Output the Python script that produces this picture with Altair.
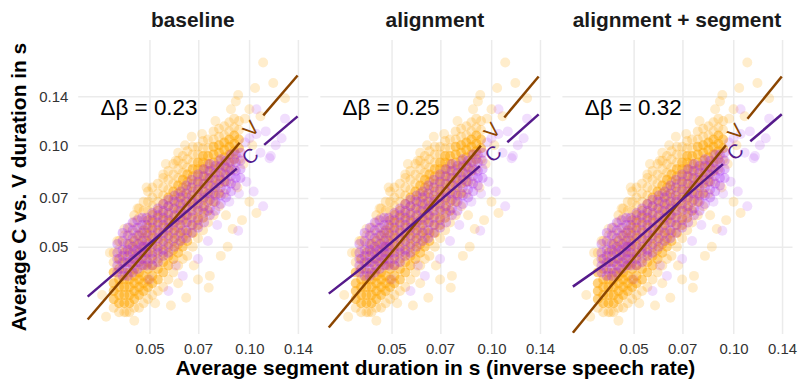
import altair as alt
import pandas as pd

panels = ["baseline", "alignment", "alignment + segment"]
delta_beta = ["Δβ = 0.23", "Δβ = 0.25", "Δβ = 0.32"]
tick_values = [0.05, 0.07, 0.10, 0.14]

# Vowel (V) points: x (thousandths of s) -> y values (thousandths of s)
# dense core of the cloud
v_core_cols = [
    (39.0, [35, 37, 39, 42]),
    (40.5, [34, 36, 38, 40, 43, 46]),
    (42.0, [34, 36, 38, 40, 42, 45, 48]),
    (43.5, [34, 36, 38, 40, 42, 45, 48, 51]),
    (45.0, [35, 37, 39, 41, 43, 46, 49, 52]),
    (46.5, [36, 38, 40, 42, 45, 48, 51, 54]),
    (48.0, [37, 39, 41, 44, 47, 50, 53, 56]),
    (49.5, [38, 40, 43, 45, 48, 51, 54, 57, 60]),
    (51.0, [39, 41, 44, 47, 50, 53, 56, 59, 62]),
    (53.0, [40, 43, 46, 49, 52, 55, 58, 61, 64]),
    (55.0, [42, 45, 48, 51, 54, 57, 60, 63, 67]),
    (57.0, [44, 47, 50, 53, 56, 59, 62, 66, 70]),
    (59.0, [46, 49, 52, 55, 58, 61, 65, 69, 73]),
    (61.0, [48, 51, 54, 57, 60, 64, 68, 72, 76]),
    (63.0, [50, 53, 56, 60, 63, 67, 71, 75, 79]),
    (65.0, [52, 55, 59, 62, 66, 70, 74, 78, 82]),
    (67.5, [55, 58, 62, 66, 69, 73, 77, 81, 85]),
    (70.0, [58, 61, 65, 69, 73, 77, 81, 85, 89]),
    (72.5, [61, 65, 69, 73, 77, 81, 85, 89, 93]),
    (75.0, [64, 68, 72, 76, 80, 84, 88, 93]),
    (78.0, [68, 72, 76, 80, 85, 89, 94, 99]),
    (81.0, [72, 77, 81, 86, 90, 95, 100]),
    (84.0, [78, 82, 87, 92, 97, 102]),
    (87.0, [84, 89, 94, 99, 104]),
    (90.0, [91, 96, 101, 107]),
    (93.0, [98, 104]),
]
# lighter fringe around the core
v_fringe_cols = [
    (39.0, [33, 45, 48]),
    (40.5, [32, 49, 52]),
    (42.0, [32, 51, 54]),
    (43.5, [32, 54, 57]),
    (45.0, [33, 55, 59, 62]),
    (46.5, [33, 57, 61, 65]),
    (48.0, [34, 60, 64, 68]),
    (49.5, [35, 64, 68, 73]),
    (51.0, [36, 66, 70, 75]),
    (53.0, [37, 68, 72, 77]),
    (55.0, [38, 71, 75, 80]),
    (57.0, [40, 74, 79, 84]),
    (59.0, [42, 77, 82, 88]),
    (61.0, [44, 80, 85, 90]),
    (63.0, [46, 83, 88, 93]),
    (65.0, [47, 86, 91, 96]),
    (67.5, [50, 89, 94, 99]),
    (70.0, [53, 94, 99]),
    (72.5, [56, 98, 103]),
    (75.0, [59, 98, 104]),
    (78.0, [62, 104, 110]),
    (81.0, [66, 106, 112]),
    (84.0, [72, 107, 114]),
    (87.0, [78, 110, 117]),
    (90.0, [85, 113, 120]),
    (93.0, [91, 111, 118]),
]
v_outliers = [
    (110, 176), (118, 153), (104, 148), (92.5, 141), (128, 138), (100, 128),
    (108, 122), (97, 120), (88, 128), (91, 135), (79, 118), (64, 100),
    (67, 106), (61, 95), (56, 88), (55, 82), (49, 75), (42, 56.5), (46, 65),
    (38, 48), (40, 52), (105, 63), (89, 56.5), (75.4, 37.8), (76, 41),
    (82, 47), (64.5, 35.3), (58, 33.5), (45, 30.2), (42.6, 32), (70, 40),
    (86, 50), (95, 60), (100, 68), (37, 31), (36, 36), (52, 34), (61, 39),
    (68, 44), (85, 62), (92, 75), (96, 88), (102, 100), (72, 108), (60, 90),
]

# Consonant (C) points
c_columns = [
    (40.0, [42, 44, 46, 48, 51]),
    (41.5, [41, 43, 45, 47, 49, 52, 55]),
    (43.0, [41, 43, 45, 47, 49, 51, 54, 57]),
    (44.5, [42, 44, 46, 48, 50, 53, 56, 59]),
    (46.0, [43, 45, 47, 49, 51, 54, 57, 60]),
    (47.5, [44, 46, 48, 50, 52, 55, 58, 61]),
    (49.0, [44, 46, 48, 50, 52, 55, 58, 61]),
    (51.0, [44, 46, 48, 51, 54, 57, 60, 63]),
    (53.0, [45, 48, 50, 53, 56, 59, 62, 65]),
    (55.0, [47, 49, 52, 55, 58, 61, 64, 67]),
    (57.0, [48, 51, 54, 57, 60, 63, 66, 69]),
    (59.5, [50, 53, 56, 59, 62, 65, 68, 71]),
    (62.0, [52, 55, 58, 61, 64, 67, 70, 73]),
    (64.5, [53, 56, 59, 62, 65, 68, 72, 76]),
    (67.0, [55, 58, 61, 64, 68, 71, 75, 79]),
    (70.0, [57, 60, 64, 67, 70, 74, 78, 82]),
    (73.0, [59, 63, 66, 70, 73, 77, 81, 85]),
    (76.0, [62, 65, 69, 72, 76, 80, 84, 88]),
    (79.0, [64, 68, 71, 75, 79, 83, 87]),
    (82.0, [67, 71, 75, 79, 83, 87, 91]),
    (85.0, [70, 74, 78, 82, 86, 90]),
    (88.0, [73, 77, 81, 85, 89, 94]),
    (91.0, [76, 80, 84, 89, 94]),
    (94.0, [80, 85, 90, 95]),
]
c_outliers = [
    (110, 66), (103, 73), (92.5, 55.8), (116, 93), (128, 120), (105, 128),
    (112, 110), (120, 100), (100, 105), (108, 95), (115, 91.5), (105, 108),
    (57, 37), (63, 41), (70, 46), (50, 40), (60, 44), (75, 52), (80, 58),
    (98, 78), (97, 102), (125, 105), (87, 68), (93, 72),
]

# Fitted lines per panel (x, y in s), split where the line label sits
v_lines = [
    [[(0.03257, 0.03043), (0.0935, 0.1018)], [(0.1101, 0.1227), (0.1397, 0.1611)]],
    [[(0.03235, 0.02882), (0.0929, 0.0998)], [(0.1093, 0.1210), (0.1387, 0.1600)]],
    [[(0.0328, 0.0278), (0.0948, 0.1001)], [(0.1101, 0.1199), (0.1397, 0.1600)]],
]
c_lines = [
    [[(0.03257, 0.03558), (0.0916, 0.0853)], [(0.1108, 0.1003), (0.1397, 0.1219)]],
    [[(0.03235, 0.03632), (0.04077, 0.04334), (0.0922, 0.08675)], [(0.1116, 0.1021), (0.1387, 0.1236)]],
    [[(0.0328, 0.0381), (0.04546, 0.04767), (0.0929, 0.08793)], [(0.1123, 0.1028), (0.1397, 0.1236)]],
]
# Line labels: (x, y, angle)
v_labels = [(0.1015, 0.1116, 311), (0.1008, 0.1101, 310), (0.1021, 0.1093, 310)]
c_labels = [(0.1008, 0.0925, 320), (0.1015, 0.0941, 320), (0.1015, 0.0954, 320)]
delta_pos = (0.0356, 0.1287)

V_POINT = "#FFA500"
C_POINT = "#A020F0"
V_LINE = "#8B4500"
C_LINE = "#551A8B"
FONT = "Liberation Sans"


def cloud(columns):
    rows = []
    for x, ys in columns:
        for y in ys:
            rows.append({"x": x / 1000, "y": y / 1000})
    return pd.DataFrame(rows)


def pairs(points):
    return pd.DataFrame([{"x": x / 1000, "y": y / 1000} for x, y in points])


v_core, v_fringe, v_out = cloud(v_core_cols), cloud(v_fringe_cols), pairs(v_outliers)
c_core, c_out = cloud(c_columns), pairs(c_outliers)

xscale = alt.Scale(type="log", domain=[0.0304, 0.1500], nice=False, zero=False)
yscale = alt.Scale(type="log", domain=[0.02767, 0.2059], nice=False, zero=False)


def line_df(segments):
    rows = []
    for s, seg in enumerate(segments):
        for k, (x, y) in enumerate(seg):
            rows.append({"seg": s, "k": k, "x": x, "y": y})
    return pd.DataFrame(rows)


def make_panel(i):
    xaxis_kw = dict(values=tick_values, format=".2f", ticks=False, domain=False,
                    labelPadding=8, labelFontSize=15, labelColor="#333333",
                    labelFont=FONT, gridColor="#EBEBEB", gridWidth=1.5)
    if i == 1:
        xaxis = alt.Axis(title="Average segment duration in s (inverse speech rate)",
                         titleFontSize=21, titleFont=FONT, titleFontWeight="bold",
                         titleColor="#000000", titlePadding=1, **xaxis_kw)
    else:
        xaxis = alt.Axis(title=None, **xaxis_kw)
    yaxis_kw = dict(values=tick_values, format=".2f", ticks=False, domain=False,
                    gridColor="#EBEBEB", gridWidth=1.5)
    if i == 0:
        yaxis = alt.Axis(title="Average C vs. V duration in s", titleFontSize=21,
                         titleFont=FONT, titleFontWeight="bold", titleColor="#000000",
                         titlePadding=9, labelPadding=10, labelFontSize=15,
                         labelColor="#333333", labelFont=FONT, **yaxis_kw)
    else:
        yaxis = alt.Axis(title=None, labels=False, **yaxis_kw)

    X = alt.X("x:Q", scale=xscale, axis=xaxis)
    Y = alt.Y("y:Q", scale=yscale, axis=yaxis)

    layers = [
        alt.Chart(v_fringe).mark_circle(size=100, opacity=0.24, color=V_POINT).encode(x=X, y=Y),
        alt.Chart(v_out).mark_circle(size=100, opacity=0.2, color=V_POINT).encode(x=X, y=Y),
        alt.Chart(v_core).mark_circle(size=100, opacity=0.5, color=V_POINT).encode(x=X, y=Y),
        alt.Chart(c_core).mark_circle(size=100, opacity=0.28, color=C_POINT).encode(x=X, y=Y),
        alt.Chart(c_out).mark_circle(size=100, opacity=0.15, color=C_POINT).encode(x=X, y=Y),
        alt.Chart(line_df(v_lines[i])).mark_line(color=V_LINE, strokeWidth=2.5, clip=True).encode(
            x=X, y=Y, detail="seg:N", order="k:Q"),
        alt.Chart(line_df(c_lines[i])).mark_line(color=C_LINE, strokeWidth=2.5, clip=True).encode(
            x=X, y=Y, detail="seg:N", order="k:Q"),
    ]

    vx, vy, va = v_labels[i]
    cx, cy, ca = c_labels[i]
    layers.append(alt.Chart(pd.DataFrame({"x": [vx], "y": [vy], "t": ["V"]})).mark_text(
        font=FONT, fontSize=20, color=V_LINE, angle=va, align="center", baseline="middle"
    ).encode(x=X, y=Y, text="t:N"))
    layers.append(alt.Chart(pd.DataFrame({"x": [cx], "y": [cy], "t": ["C"]})).mark_text(
        font=FONT, fontSize=20, color=C_LINE, angle=ca, align="center", baseline="middle"
    ).encode(x=X, y=Y, text="t:N"))
    layers.append(alt.Chart(pd.DataFrame({"x": [delta_pos[0]], "y": [delta_pos[1]], "t": [delta_beta[i]]})).mark_text(
        font=FONT, fontSize=22.5, color="#000000", align="left", baseline="middle"
    ).encode(x=X, y=Y, text="t:N"))

    return alt.layer(*layers).properties(
        width=231, height=295,
        title=alt.TitleParams(panels[i], font=FONT, fontSize=21, fontWeight="bold",
                              color="#1a1a1a", offset=9, anchor="middle"),
    )


chart = alt.hconcat(*[make_panel(i) for i in range(3)], spacing=12, bounds="flush").properties(
    padding={"left": 0, "top": 0, "right": 0, "bottom": 0}
).configure_view(stroke="transparent")

chart.save("out.html", embed_options={"renderer": "svg", "actions": False})
